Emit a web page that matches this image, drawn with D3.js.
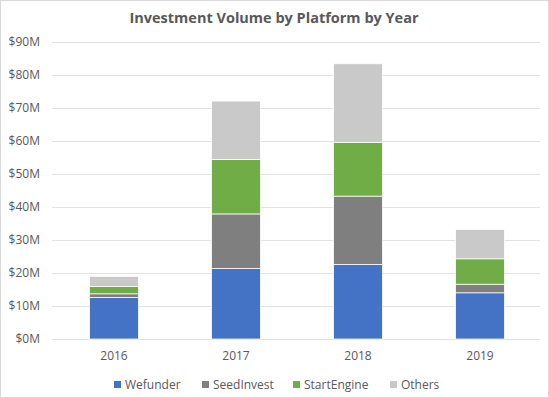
<!DOCTYPE html>
<html>
<head>
<meta charset="utf-8">
<script src="https://cdn.jsdelivr.net/npm/d3@7"></script>
<style>
  html, body { margin: 0; padding: 0; background: #fff; }
  svg { display: block; }
  text { font-family: "Open Sans", "Liberation Sans", sans-serif; }
</style>
</head>
<body>
<svg id="chart" width="549" height="398"></svg>
<script>
const years = ["2016", "2017", "2018", "2019"];
const platforms = ["Wefunder", "SeedInvest", "StartEngine", "Others"];
const wefunder    = [12.6, 21.4, 22.6, 14.0];
const seedInvest  = [1.1, 16.5, 20.7, 2.6];
const startEngine = [2.2, 16.5, 16.3, 7.7];
const others      = [3.1, 17.7, 23.8, 8.9];
const yTicks = [0, 10, 20, 30, 40, 50, 60, 70, 80, 90];
const colors = ["#4472C4", "#7F7F7F", "#70AD47", "#C9C9C9"];
const title = "Investment Volume by Platform by Year";

const seriesValues = [wefunder, seedInvest, startEngine, others];
const table = years.map((y, i) => {
  const row = { year: y };
  platforms.forEach((p, k) => row[p] = seriesValues[k][i]);
  return row;
});

const svg = d3.select("#chart");
const W = 549, H = 398;

svg.append("rect").attr("x", 0.5).attr("y", 0.5).attr("width", W - 1).attr("height", H - 1)
  .attr("fill", "#fff").attr("stroke", "#D9D9D9");

const x = d3.scaleBand().domain(years).range([53, 541]).paddingInner(0.6).paddingOuter(0.3);
const y = d3.scaleLinear().domain([0, 90]).range([339, 42]);

// gridlines
svg.append("g").selectAll("line").data(yTicks).join("line")
  .attr("x1", 52).attr("x2", 540)
  .attr("y1", d => Math.round(y(d)) + 0.5).attr("y2", d => Math.round(y(d)) + 0.5)
  .attr("stroke", "#E3E3E3").attr("stroke-width", 1);

// y axis labels
const yAxis = d3.axisLeft(y).tickValues(yTicks).tickSize(0).tickPadding(0)
  .tickFormat(d => "$" + d + "M");
const gy = svg.append("g").attr("transform", "translate(40,0)").call(yAxis);
gy.select(".domain").remove();
gy.selectAll("text").attr("fill", "#595959").style("font-size", "12px")
  .style("font-family", '"Open Sans", sans-serif');

// x axis labels
const xAxis = d3.axisBottom(x).tickSize(0).tickPadding(0);
const gx = svg.append("g").attr("transform", "translate(0,351)").call(xAxis);
gx.select(".domain").remove();
gx.selectAll("text").attr("fill", "#595959").style("font-size", "12px")
  .style("font-family", '"Open Sans", sans-serif');

// stacked bars
const stack = d3.stack().keys(platforms);
const layers = stack(table);
svg.append("g").selectAll("g").data(layers).join("g")
  .attr("fill", (d, i) => colors[i])
  .selectAll("rect").data(d => d).join("rect")
  .attr("x", d => x(d.data.year))
  .attr("width", x.bandwidth())
  .attr("y", d => y(d[1]))
  .attr("height", d => y(d[0]) - y(d[1]))
  .attr("stroke", "#fff").attr("stroke-width", 0.75);

// title
svg.append("text").attr("x", 274).attr("y", 23).attr("text-anchor", "middle")
  .attr("fill", "#595959").style("font-size", "14.5px").style("font-weight", "bold")
  .text(title);

// legend
const legendX = [114, 202, 293, 390];
const lg = svg.append("g").selectAll("g").data(platforms).join("g")
  .attr("transform", (d, i) => `translate(${legendX[i]},381)`);
lg.append("rect").attr("x", 0).attr("y", 0).attr("width", 7).attr("height", 7)
  .attr("fill", (d, i) => colors[i]);
lg.append("text").attr("x", 11).attr("y", 8).attr("fill", "#595959")
  .style("font-size", "12px").text(d => d);
</script>
</body>
</html>
